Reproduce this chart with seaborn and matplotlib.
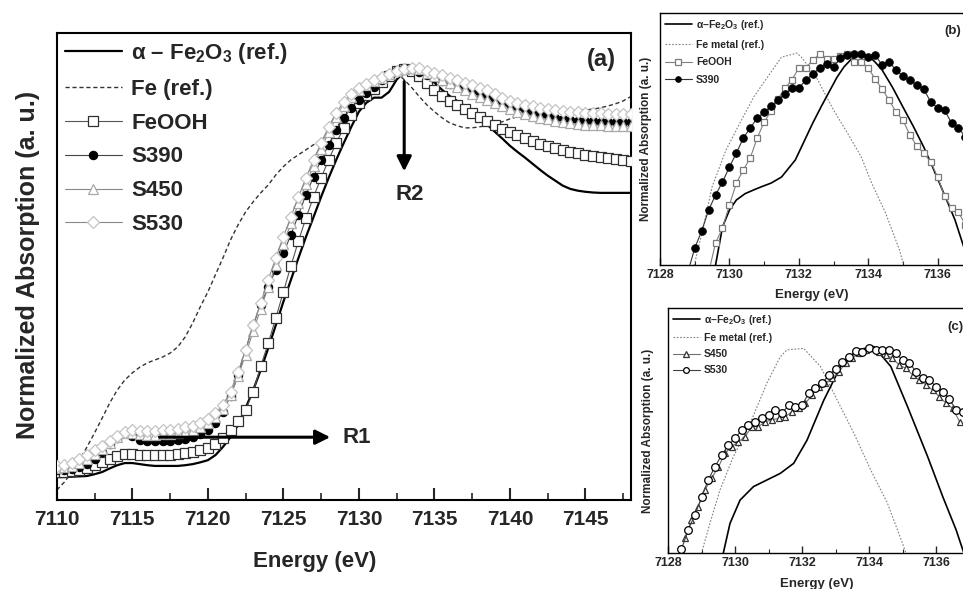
import numpy as np
import matplotlib
matplotlib.use("Agg")
import matplotlib.pyplot as plt
import seaborn as sns
from matplotlib.ticker import MultipleLocator, NullLocator

sns.set_style("ticks")
plt.rcParams["font.family"] = ["Liberation Sans", "DejaVu Sans"]
plt.rcParams["font.weight"] = "bold"
plt.rcParams["mathtext.fontset"] = "custom"
plt.rcParams["mathtext.rm"] = "Liberation Sans:bold"
plt.rcParams["mathtext.bf"] = "Liberation Sans:bold"
plt.rcParams["mathtext.it"] = "Liberation Sans:bold:italic"

# ---- panel (a): full XANES, 0.5 eV steps from 7110 to 7148 eV ----
alpha_main = [
    0.064, 0.064, 0.065, 0.066, 0.067, 0.072, 0.078, 0.088, 0.097, 0.103,
    0.103, 0.100, 0.097, 0.095, 0.095, 0.095, 0.095, 0.097, 0.100, 0.105,
    0.111, 0.125, 0.148, 0.175, 0.209, 0.256, 0.306, 0.362, 0.423, 0.487,
    0.552, 0.613, 0.674, 0.733, 0.788, 0.844, 0.897, 0.947, 0.994, 1.039,
    1.081, 1.106, 1.120, 1.120, 1.136, 1.170, 1.192, 1.203, 1.198, 1.181,
    1.162, 1.142, 1.125, 1.111, 1.097, 1.081, 1.064, 1.045, 1.025, 1.006,
    0.986, 0.969, 0.953, 0.936, 0.919, 0.903, 0.889, 0.875, 0.866, 0.861,
    0.858, 0.856, 0.855, 0.855, 0.855, 0.855, 0.855]
fe_main = [
    0.028, 0.050, 0.078, 0.111, 0.148, 0.187, 0.228, 0.270, 0.306, 0.334,
    0.354, 0.370, 0.382, 0.390, 0.398, 0.409, 0.426, 0.454, 0.493, 0.538,
    0.579, 0.627, 0.674, 0.724, 0.766, 0.802, 0.830, 0.855, 0.877, 0.905,
    0.928, 0.947, 0.961, 0.975, 0.989, 1.003, 1.017, 1.036, 1.064, 1.095,
    1.123, 1.148, 1.170, 1.187, 1.195, 1.189, 1.170, 1.148, 1.123, 1.100,
    1.081, 1.064, 1.050, 1.042, 1.036, 1.036, 1.039, 1.042, 1.047, 1.053,
    1.061, 1.067, 1.072, 1.078, 1.081, 1.082, 1.083, 1.083, 1.084, 1.085,
    1.086, 1.088, 1.092, 1.097, 1.103, 1.111, 1.123]
feooh_main = [
    0.078, 0.079, 0.081, 0.084, 0.089, 0.097, 0.106, 0.115, 0.123, 0.128,
    0.128, 0.126, 0.125, 0.125, 0.125, 0.126, 0.128, 0.131, 0.134, 0.139,
    0.145, 0.156, 0.173, 0.195, 0.220, 0.251, 0.301, 0.373, 0.437, 0.507,
    0.579, 0.652, 0.721, 0.786, 0.844, 0.897, 0.947, 0.994, 1.036, 1.072,
    1.106, 1.128, 1.145, 1.164, 1.181, 1.195, 1.201, 1.195, 1.181, 1.162,
    1.142, 1.125, 1.111, 1.100, 1.089, 1.078, 1.067, 1.056, 1.045, 1.033,
    1.025, 1.017, 1.008, 1.000, 0.992, 0.986, 0.981, 0.975, 0.969, 0.967,
    0.961, 0.958, 0.955, 0.953, 0.950, 0.947, 0.944]
s390_main = [
    0.084, 0.085, 0.086, 0.091, 0.100, 0.115, 0.134, 0.155, 0.173, 0.187,
    0.178, 0.167, 0.164, 0.164, 0.164, 0.165, 0.167, 0.170, 0.175, 0.184,
    0.195, 0.214, 0.245, 0.290, 0.348, 0.418, 0.487, 0.543, 0.593, 0.641,
    0.688, 0.738, 0.794, 0.850, 0.900, 0.947, 0.989, 1.031, 1.064, 1.092,
    1.114, 1.134, 1.150, 1.170, 1.187, 1.198, 1.203, 1.201, 1.192, 1.184,
    1.175, 1.167, 1.159, 1.153, 1.148, 1.142, 1.134, 1.125, 1.117, 1.109,
    1.103, 1.095, 1.089, 1.081, 1.075, 1.070, 1.064, 1.061, 1.058, 1.056,
    1.055, 1.054, 1.053, 1.053, 1.053, 1.053, 1.053]
s450_main = [
    0.090, 0.092, 0.096, 0.104, 0.115, 0.129, 0.143, 0.160, 0.175, 0.186,
    0.188, 0.184, 0.182, 0.182, 0.183, 0.184, 0.186, 0.190, 0.195, 0.203,
    0.214, 0.230, 0.254, 0.292, 0.345, 0.405, 0.470, 0.532, 0.594, 0.655,
    0.714, 0.770, 0.826, 0.880, 0.930, 0.978, 1.024, 1.065, 1.098, 1.123,
    1.141, 1.154, 1.165, 1.175, 1.185, 1.193, 1.199, 1.202, 1.200, 1.190,
    1.180, 1.170, 1.160, 1.150, 1.140, 1.131, 1.122, 1.113, 1.104, 1.096,
    1.088, 1.081, 1.075, 1.069, 1.064, 1.060, 1.056, 1.052, 1.049, 1.047,
    1.045, 1.044, 1.043, 1.042, 1.041, 1.040, 1.040]
s530_main = [
    0.095, 0.098, 0.103, 0.113, 0.125, 0.138, 0.150, 0.164, 0.178, 0.189,
    0.195, 0.192, 0.192, 0.193, 0.195, 0.196, 0.198, 0.202, 0.206, 0.214,
    0.226, 0.242, 0.265, 0.301, 0.357, 0.418, 0.487, 0.549, 0.613, 0.674,
    0.733, 0.788, 0.844, 0.897, 0.947, 0.994, 1.039, 1.078, 1.109, 1.131,
    1.148, 1.159, 1.170, 1.178, 1.187, 1.195, 1.201, 1.203, 1.203, 1.195,
    1.190, 1.183, 1.176, 1.169, 1.162, 1.155, 1.148, 1.140, 1.130, 1.120,
    1.110, 1.105, 1.100, 1.096, 1.092, 1.089, 1.086, 1.083, 1.081, 1.079,
    1.078, 1.077, 1.076, 1.075, 1.075, 1.075, 1.075]
energy_main = 7110 + 0.5 * np.arange(len(alpha_main))

# ---- panel (b): zoom on white line ----
alpha_b_e = [7129.5, 7129.6, 7129.8, 7130.0, 7130.2, 7130.45, 7130.7, 7130.95, 7131.2,
             7131.5, 7131.9, 7132.15, 7132.4, 7132.65, 7132.9, 7133.1, 7133.3, 7133.5,
             7133.7, 7133.9, 7134.05, 7134.2, 7134.4, 7134.7, 7135.0, 7135.3, 7135.6,
             7135.85, 7136.1, 7136.3, 7136.5, 7136.8, 7137.0]
alpha_b = [-0.08, 0.0, 0.151, 0.218, 0.258, 0.283, 0.298, 0.312, 0.325,
           0.349, 0.417, 0.490, 0.563, 0.630, 0.694, 0.745, 0.786, 0.815,
           0.833, 0.834, 0.825, 0.805, 0.774, 0.705, 0.627, 0.550, 0.468,
           0.390, 0.310, 0.245, 0.179, 0.052, -0.04]
fe_b_e = [7128.9, 7129.0, 7129.25, 7129.5, 7129.9, 7130.3, 7130.7, 7131.1, 7131.5,
          7131.95, 7132.1, 7132.5, 7133.0, 7133.4, 7133.8, 7134.1, 7134.5, 7134.9, 7135.1]
fe_b = [-0.04, 0.008, 0.151, 0.310, 0.456, 0.563, 0.667, 0.746, 0.825,
        0.841, 0.821, 0.746, 0.615, 0.524, 0.429, 0.325, 0.206, 0.060, -0.04]
feooh_b = [-0.03, 0.087, 0.147, 0.238, 0.325, 0.377, 0.425, 0.504, 0.567, 0.611,
           0.659, 0.702, 0.734, 0.782, 0.782, 0.813, 0.837, 0.817, 0.817, 0.829,
           0.837, 0.806, 0.806, 0.782, 0.738, 0.698, 0.655, 0.607, 0.575, 0.516,
           0.472, 0.444, 0.409, 0.349, 0.274, 0.226, 0.210, 0.159]
feooh_b_e = 7129.4 + 0.2 * np.arange(len(feooh_b))
s390_b = [-0.03, 0.067, 0.135, 0.218, 0.278, 0.329, 0.389, 0.444, 0.504, 0.544,
          0.583, 0.607, 0.631, 0.655, 0.679, 0.702, 0.702, 0.734, 0.758, 0.782,
          0.798, 0.786, 0.821, 0.833, 0.837, 0.837, 0.825, 0.833, 0.794, 0.806,
          0.774, 0.750, 0.734, 0.714, 0.698, 0.647, 0.623, 0.615, 0.563, 0.544,
          0.508, 0.480]
s390_b_e = 7128.8 + 0.2 * np.arange(len(s390_b))

# ---- panel (c) ----
alpha_c_e = [7129.55, 7129.65, 7129.85, 7130.15, 7130.55, 7130.95, 7131.35, 7131.75,
             7132.15, 7132.65, 7133.15, 7133.65, 7134.15, 7134.65, 7135.15, 7135.75,
             7136.2, 7136.6, 7136.8, 7137.0]
alpha_c = [-0.06, 0.0, 0.121, 0.216, 0.271, 0.298, 0.325, 0.366,
           0.461, 0.624, 0.761, 0.829, 0.842, 0.761, 0.597, 0.393,
           0.230, 0.094, 0.012, -0.06]
fe_c_e = [7128.95, 7129.0, 7129.25, 7129.55, 7129.95, 7130.45, 7130.95, 7131.35,
          7131.55, 7132.05, 7132.55, 7133.05, 7133.55, 7134.05, 7134.55, 7135.0, 7135.1]
fe_c = [-0.03, 0.0, 0.121, 0.257, 0.393, 0.529, 0.693, 0.801,
        0.829, 0.835, 0.761, 0.624, 0.488, 0.339, 0.203, 0.039, 0.0]
s450_c = [0.060, 0.135, 0.189, 0.257, 0.305, 0.350, 0.407, 0.434, 0.454, 0.475,
          0.516, 0.516, 0.536, 0.543, 0.550, 0.556, 0.577, 0.590, 0.611, 0.645,
          0.679, 0.693, 0.713, 0.740, 0.774, 0.795, 0.815, 0.829, 0.835, 0.822,
          0.808, 0.795, 0.767, 0.754, 0.727, 0.706, 0.686, 0.665, 0.638, 0.611,
          0.590, 0.536, 0.516]
s450_c_e = 7128.5 + 0.2 * np.arange(len(s450_c))
s530_c = [0.015, 0.094, 0.155, 0.227, 0.298, 0.352, 0.400, 0.441, 0.468, 0.502,
          0.522, 0.536, 0.550, 0.563, 0.584, 0.570, 0.604, 0.597, 0.604, 0.652,
          0.672, 0.693, 0.727, 0.750, 0.781, 0.801, 0.824, 0.822, 0.835, 0.829,
          0.829, 0.829, 0.815, 0.788, 0.777, 0.740, 0.713, 0.706, 0.679, 0.659,
          0.627, 0.584, 0.577]
s530_c_e = 7128.4 + 0.2 * np.arange(len(s530_c))


def draw(ax, x, y, label, **kw):
    sns.lineplot(x=np.asarray(x), y=np.asarray(y), ax=ax, label=label,
                 sort=False, estimator=None, **kw)
    return ax.lines[-1]


fig = plt.figure(figsize=(9.63, 5.89), dpi=100)

# ================= (a) =================
ax = fig.add_axes([0.059, 0.151, 0.596, 0.793])
a_lab = "\u03b1 \u2013 Fe$_2$O$_3$ (ref.)"
draw(ax, energy_main, alpha_main, a_lab, color="black", linewidth=1.6, zorder=3)
ln = draw(ax, energy_main, fe_main, "Fe (ref.)", color="#333333", linewidth=1.0, zorder=2)
ln.set_dashes([3, 2])
draw(ax, energy_main, feooh_main, "FeOOH", color="#555555", linewidth=0.8, marker="s",
     markersize=7, markerfacecolor="white", markeredgecolor="#303030",
     markeredgewidth=0.9, zorder=4)
draw(ax, energy_main, s390_main, "S390", color="#444444", linewidth=0.8, marker="o",
     markersize=6, markerfacecolor="black", markeredgecolor="black",
     markeredgewidth=0.8, zorder=5)
draw(ax, energy_main, s450_main, "S450", color="#888888", linewidth=0.8, marker="^",
     markersize=7.5, markerfacecolor="white", markeredgecolor="#a8a8a8",
     markeredgewidth=0.9, zorder=6)
draw(ax, energy_main, s530_main, "S530", color="#888888", linewidth=0.8, marker="D",
     markersize=6.5, markerfacecolor="white", markeredgecolor="#c4c4c4",
     markeredgewidth=0.9, zorder=7)

ax.set_xlim(7110, 7148)
ax.set_ylim(0, 1.3)
ax.xaxis.set_major_locator(MultipleLocator(5))
ax.xaxis.set_minor_locator(MultipleLocator(2.5))
ax.yaxis.set_major_locator(NullLocator())
ax.yaxis.set_minor_locator(NullLocator())
ax.tick_params(axis="x", which="major", direction="in", length=9, width=1.5,
               labelsize=15, pad=7, top=False)
ax.tick_params(axis="x", which="minor", direction="in", length=5, width=1.2, top=False)
for s in ax.spines.values():
    s.set_linewidth(1.5)
    s.set_color("black")
ax.set_xlabel("Energy (eV)", fontsize=16, fontweight="bold")
ax.xaxis.set_label_coords(0.449, -0.109)
ax.set_ylabel("Normalized Absorption (a. u.)", fontsize=18, fontweight="bold")
ax.yaxis.set_label_coords(-0.030, 0.503)

h, l = ax.get_legend_handles_labels()
ax.legend(h, l, loc="upper left", bbox_to_anchor=(0, 1), frameon=False,
          prop={"size": 16, "weight": "bold"}, handlelength=2.6, handletextpad=0.4,
          labelspacing=0.58, borderaxespad=0.1, borderpad=0.25)

arrow = dict(arrowstyle="-|>", color="black", lw=2.2, mutation_scale=22,
             shrinkA=0, shrinkB=0)
ax.annotate("", xy=(7128.1, 0.175), xytext=(7116.8, 0.175), arrowprops=arrow, zorder=10)
ax.text(7128.9, 0.175, "R1", fontsize=16, fontweight="bold", ha="left", va="center")
ax.annotate("", xy=(7133.0, 0.915), xytext=(7133.0, 1.165), arrowprops=arrow, zorder=10)
ax.text(7133.4, 0.850, "R2", fontsize=16, fontweight="bold", ha="center", va="center")
ax.text(0.948, 0.944, "(a)", transform=ax.transAxes, fontsize=17, fontweight="bold",
        ha="center", va="center")


def style_inset(axi, ylab_x, xlab_x, xlab_y, lspace):
    axi.set_xlim(7128, 7137.5)
    axi.set_ylim(0, 1)
    axi.xaxis.set_major_locator(MultipleLocator(2))
    axi.xaxis.set_minor_locator(MultipleLocator(1))
    axi.yaxis.set_major_locator(NullLocator())
    axi.yaxis.set_minor_locator(NullLocator())
    axi.tick_params(axis="x", which="major", direction="in", length=5, width=1.0,
                    labelsize=9, pad=3, top=False)
    axi.tick_params(axis="x", which="minor", direction="in", length=3, width=0.8, top=False)
    for s in axi.spines.values():
        s.set_linewidth(1.0)
        s.set_color("black")
    axi.set_xlabel("Energy (eV)", fontsize=9.5, fontweight="bold")
    axi.xaxis.set_label_coords(xlab_x, xlab_y)
    axi.set_ylabel("Normalized Absorption (a. u.)", fontsize=8.5, fontweight="bold")
    axi.yaxis.set_label_coords(ylab_x, 0.5)
    hh, ll = axi.get_legend_handles_labels()
    axi.legend(hh, ll, loc="upper left", bbox_to_anchor=(0, 1), frameon=False,
               prop={"size": 7.5, "weight": "bold"}, handlelength=2.6,
               handletextpad=0.4, labelspacing=lspace, borderaxespad=0.0,
               borderpad=0.45, markerscale=0.75)


a_lab2 = "\u03b1\u2013Fe$_2$O$_3$ (ref.)"

# ================= (b) =================
axb = fig.add_axes([0.6854, 0.5501, 0.3423, 0.4278])
draw(axb, alpha_b_e, alpha_b, a_lab2, color="black", linewidth=1.2, zorder=3)
ln = draw(axb, fe_b_e, fe_b, "Fe metal (ref.)", color="#808080", linewidth=0.8, zorder=2)
ln.set_dashes([1.5, 1.5])
draw(axb, feooh_b_e, feooh_b, "FeOOH", color="#808080", linewidth=0.8, marker="s",
     markersize=5, markerfacecolor="white", markeredgecolor="#7a7a7a",
     markeredgewidth=0.9, zorder=4)
draw(axb, s390_b_e, s390_b, "S390", color="#333333", linewidth=0.8, marker="o",
     markersize=5.5, markerfacecolor="black", markeredgecolor="black",
     markeredgewidth=0.6, zorder=5)
style_inset(axb, -0.024, 0.46, -0.095, 0.75)
fig.text(953 / 963, 1 - 31 / 589, "(b)", fontsize=9.5, fontweight="bold",
         ha="center", va="center")

# ================= (c) =================
axc = fig.add_axes([0.6937, 0.0611, 0.3305, 0.4160])
draw(axc, alpha_c_e, alpha_c, a_lab2, color="black", linewidth=1.2, zorder=3)
ln = draw(axc, fe_c_e, fe_c, "Fe metal (ref.)", color="#808080", linewidth=0.8, zorder=2)
ln.set_dashes([1.5, 1.5])
draw(axc, s450_c_e, s450_c, "S450", color="#707070", linewidth=0.8, marker="^",
     markersize=5, markerfacecolor="white", markeredgecolor="#333333",
     markeredgewidth=0.9, zorder=4)
draw(axc, s530_c_e, s530_c, "S530", color="#404040", linewidth=0.8, marker="o",
     markersize=5.5, markerfacecolor="white", markeredgecolor="black",
     markeredgewidth=0.9, zorder=5)
style_inset(axc, -0.044, 0.468, -0.102, 0.6)
fig.text(955 / 963, 1 - 327 / 589, "(c)", fontsize=9.5, fontweight="bold",
         ha="center", va="center")

fig.savefig("out.png", dpi=100)
